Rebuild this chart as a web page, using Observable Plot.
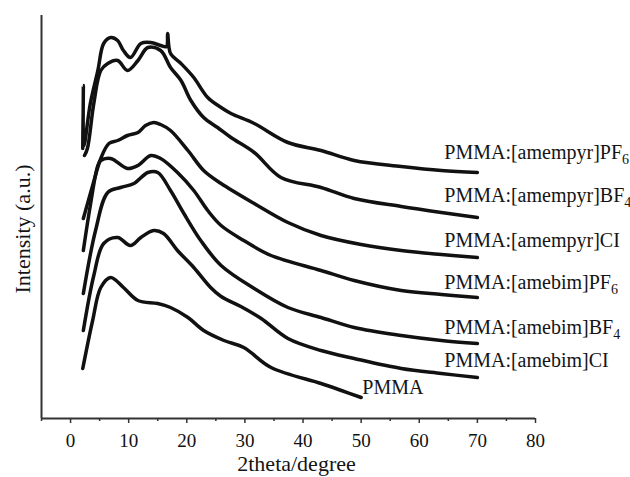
<!DOCTYPE html>
<html><head><meta charset="utf-8">
<script src="https://cdn.jsdelivr.net/npm/d3@7"></script>
<script src="https://cdn.jsdelivr.net/npm/@observablehq/plot@0.6"></script>
<style>body{margin:0;background:#fff;overflow:hidden;} #chart svg{display:block;}</style>
</head><body><div id="chart"></div>
<script>
// series names (top to bottom)
const seriesNames = ["amempyrPF6","amempyrBF4","amempyrCI","amebimPF6","amebimBF4","amebimCI","PMMA"];

// 2theta (degree) and intensity (a.u.)
const amempyrPF6X = [2.1, 2.2, 2.3, 3.4, 4.7, 5.7, 6.9, 8.1, 9.1, 10.3, 12.1, 13.8, 15.5, 16.5, 16.7, 17.2, 19.0, 21.2, 23.6, 25.9, 27.6, 31.6, 37.4, 43.1, 48.8, 56.9, 63.8, 70];
const amempyrPF6Y = [270, 333, 273, 315, 348, 375, 381, 378, 368, 361, 375, 376, 373, 372, 385, 365, 355, 341, 321, 311, 305, 295, 276, 268, 258, 252, 248, 246];

const amempyrBF4X = [2.4, 2.9, 4.0, 5.2, 6.4, 8.1, 9.8, 11.6, 13.3, 15.5, 17.2, 19.0, 20.7, 22.9, 25.3, 27.6, 31.6, 36.2, 43.1, 48.8, 56.9, 63.8, 70];
const amempyrBF4Y = [263, 270, 315, 348, 355, 358, 348, 358, 371, 368, 351, 338, 318, 301, 291, 281, 266, 241, 231, 220, 212, 206, 201];

const amempyrCIX = [2.2, 3.8, 5.2, 6.6, 8.1, 9.8, 11.6, 12.9, 14.3, 15.5, 17.2, 20.2, 22.9, 25.9, 31.6, 37.4, 43.1, 50, 56.9, 63.8, 70];
const amempyrCIY = [200, 233, 260, 275, 278, 283, 286, 293, 296, 294, 288, 268, 248, 235, 215, 196, 183, 174, 168, 164, 161];

const amebimPF6X = [2.2, 3.4, 4.7, 5.2, 6.9, 9.8, 11.6, 13.8, 15.5, 18.4, 21.2, 23.6, 25.9, 29.8, 34.5, 43.1, 48.8, 56.9, 63.8, 70];
const amebimPF6Y = [168, 213, 253, 258, 260, 250, 253, 263, 260, 246, 228, 208, 193, 178, 163, 148, 138, 128, 124, 121];

const amebimBF4X = [2.2, 4.3, 6.4, 8.6, 10.9, 13.3, 15.0, 17.2, 19.5, 22.4, 25.9, 31.6, 37.4, 43.1, 48.8, 56.9, 63.8, 70];
const amebimBF4Y = [125, 188, 226, 231, 235, 246, 246, 228, 205, 178, 153, 130, 111, 101, 91, 83, 78, 75];

const amebimCIX = [2.2, 4.0, 5.7, 8.1, 10.3, 12.1, 14.3, 16.0, 18.4, 21.2, 24.1, 25.9, 29.3, 32.8, 37.4, 43.1, 48.8, 56.9, 63.8, 70];
const amebimCIY = [88, 143, 175, 181, 173, 181, 188, 185, 168, 151, 131, 122, 112, 100, 80, 68, 60, 50, 45, 41];

const pmmaX = [2.1, 3.8, 5.2, 6.9, 9.1, 11.6, 15.0, 17.2, 20.2, 22.9, 26.4, 29.8, 34.5, 43.1, 46.6, 50];
const pmmaY = [50, 98, 131, 141, 131, 118, 115, 111, 101, 88, 78, 71, 51, 35, 28, 21];

const seriesX = [amempyrPF6X, amempyrBF4X, amempyrCIX, amebimPF6X, amebimBF4X, amebimCIX, pmmaX];
const seriesY = [amempyrPF6Y, amempyrBF4Y, amempyrCIY, amebimPF6Y, amebimBF4Y, amebimCIY, pmmaY];

// curve labels
const labelBase = ["PMMA:[amempyr]PF","PMMA:[amempyr]BF","PMMA:[amempyr]CI","PMMA:[amebim]PF","PMMA:[amebim]BF","PMMA:[amebim]CI","PMMA"];
const labelSub  = ["6","4","","6","4","",""];
const labelX = [64.3, 64.3, 64.3, 64.3, 64.3, 64.3, 50.2];
const labelY = [266, 223, 178, 136, 91, 58, 31];

// axis ticks
const majorTicks = [0, 10, 20, 30, 40, 50, 60, 70, 80];
const minorTicks = [-5, 5, 15, 25, 35, 45, 55, 65, 75];

const rows = [];
seriesNames.forEach((s, i) => seriesX[i].forEach((x, j) => rows.push({series: s, x, y: seriesY[i][j]})));
const labels = labelBase.map((t, i) => ({text: t, sub: labelSub[i], x: labelX[i], y: labelY[i]}));

const font = "'Liberation Serif', 'Times New Roman', serif";
const plot = Plot.plot({
  width: 630,
  height: 477,
  marginLeft: 41,
  marginRight: 95,
  marginTop: 15,
  marginBottom: 59,
  style: {fontFamily: font, background: "#fff", color: "#111"},
  x: {domain: [-5, 80]},
  y: {domain: [0, 403], axis: null},
  marks: [
    Plot.ruleX([-5], {stroke: "#333", strokeWidth: 2}),
    Plot.ruleY([0], {stroke: "#333", strokeWidth: 2}),
    Plot.axisX({ticks: majorTicks, tickSize: 5, tickPadding: 10, fontSize: 19, label: null, tickFormat: d => String(d), stroke: "#333", strokeWidth: 1.5}),
    Plot.axisX({ticks: minorTicks, tickSize: 3, tickFormat: () => "", label: null, stroke: "#333", strokeWidth: 1.5}),
    Plot.line(rows, {x: "x", y: "y", z: "series", stroke: "#111", strokeWidth: 3.5, strokeLinejoin: "round", curve: "catmull-rom"}),
    Plot.text(labels, {x: "x", y: "y", text: "text", textAnchor: "start", fontSize: 20, fill: "#141414", className: "curve-labels"}),
    Plot.text(["2theta/degree"], {frameAnchor: "bottom", dx: 8, dy: 52, fontSize: 22, fill: "#141414"}),
    Plot.text(["Intensity (a.u.)"], {frameAnchor: "left", textAnchor: "middle", dx: -19, dy: 12, rotate: -90, fontSize: 22, fill: "#141414"})
  ]
});
// subscripts for the anion labels
plot.querySelectorAll(".curve-labels text").forEach((el, i) => {
  const s = labels[i].sub;
  if (s) {
    const t = document.createElementNS("http://www.w3.org/2000/svg", "tspan");
    t.setAttribute("dy", "0.35em");
    t.setAttribute("font-size", "14");
    t.textContent = s;
    el.appendChild(t);
  }
});
document.getElementById("chart").appendChild(plot);
</script>
</body></html>
